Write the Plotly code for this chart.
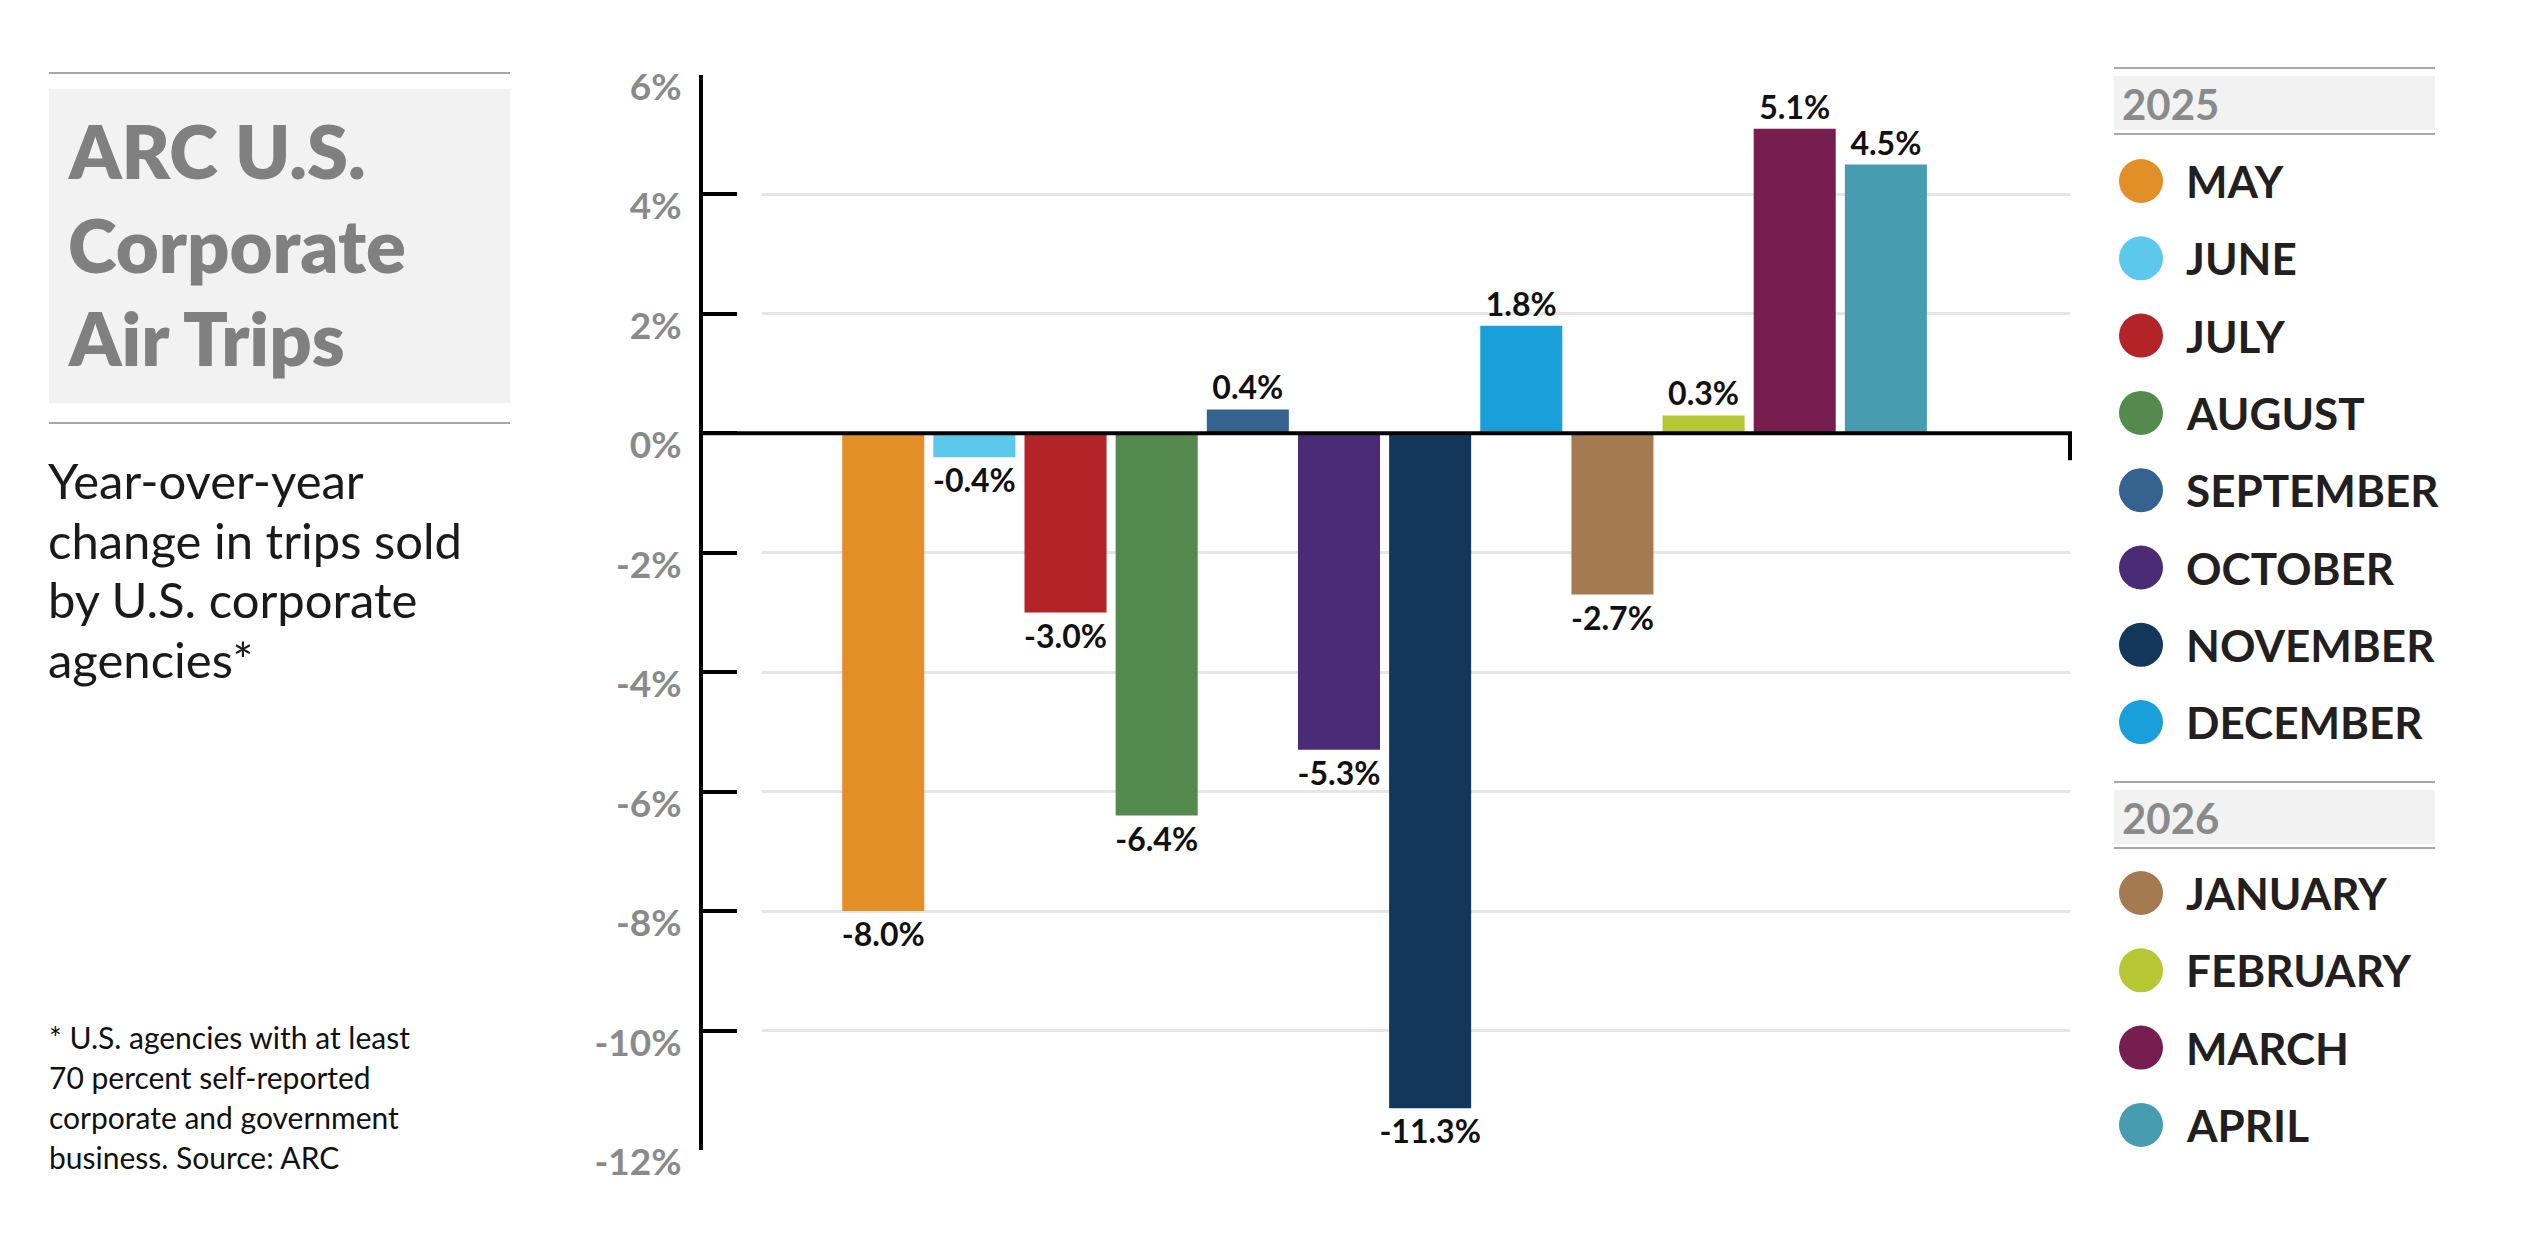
import plotly.graph_objects as go

# ---------------- data ----------------
months = ["MAY", "JUNE", "JULY", "AUGUST", "SEPTEMBER", "OCTOBER", "NOVEMBER",
          "DECEMBER", "JANUARY", "FEBRUARY", "MARCH", "APRIL"]
years = ["2025"] * 8 + ["2026"] * 4
values = [-8.0, -0.4, -3.0, -6.4, 0.4, -5.3, -11.3, 1.8, -2.7, 0.3, 5.1, 4.5]
colors = ["#E38F28", "#5BC8EC", "#B22428", "#558A4F", "#35628F", "#4A2C76",
          "#12375A", "#199FDA", "#A67A50", "#B7C634", "#761E50", "#479DAF"]
y_ticks = [-12, -10, -8, -6, -4, -2, 0, 2, 4, 6]
y_tick_labels = [f"{t}%" for t in y_ticks]
value_labels = [f"{v:.1f}%" for v in values]

title_lines = ["ARC U.S.", "Corporate", "Air Trips"]
subtitle_lines = ["Year-over-year", "change in trips sold", "by U.S. corporate", "agencies*"]
note_lines = ["* U.S. agencies with at least", "70 percent self-reported",
              "corporate and government", "business. Source: ARC"]

# ---------------- geometry helpers ----------------
W, H = 2540, 1250
def px(x):
    return x / W
def py(y):
    return 1 - y / H

FONT = "Lato"
fig = go.Figure()

fig.add_trace(go.Bar(
    x=list(range(len(values))),
    y=values,
    marker=dict(color=colors, line=dict(width=0)),
    text=value_labels,
    textposition="outside",
    constraintext="none",
    cliponaxis=False,
    textfont=dict(family=FONT, size=32, color="#111111", weight="bold"),
    hoverinfo="skip",
    showlegend=False,
))

shapes = []
annotations = []

# zero line with end tick
shapes.append(dict(type="line", xref="paper", yref="y", x0=px(699), x1=px(2072),
                   y0=0, y1=0, line=dict(color="black", width=4)))
shapes.append(dict(type="line", xref="paper", yref="y", x0=px(2070), x1=px(2070),
                   y0=0, y1=-0.45, line=dict(color="black", width=4)))

# ---------------- left panel ----------------
LINE_GRAY = "#a8a8a8"
BOX_GRAY = "#f2f2f2"
shapes.append(dict(type="line", xref="paper", yref="paper", x0=px(49), x1=px(510),
                   y0=py(73), y1=py(73), line=dict(color=LINE_GRAY, width=2)))
shapes.append(dict(type="rect", xref="paper", yref="paper", x0=px(49), x1=px(510),
                   y0=py(403), y1=py(89), fillcolor=BOX_GRAY, line=dict(width=0)))
shapes.append(dict(type="line", xref="paper", yref="paper", x0=px(49), x1=px(510),
                   y0=py(423), y1=py(423), line=dict(color=LINE_GRAY, width=2)))

for i, t in enumerate(title_lines):
    annotations.append(dict(text=t, xref="paper", yref="paper", x=px(66), y=py(150 + i * 94),
                            xanchor="left", yanchor="middle", showarrow=False,
                            font=dict(family=FONT, size=74, color="#808080", weight=800)))
for i, t in enumerate(subtitle_lines):
    annotations.append(dict(text=t, xref="paper", yref="paper", x=px(46), y=py(480 + i * 59.5),
                            xanchor="left", yanchor="middle", showarrow=False,
                            font=dict(family=FONT, size=49, color="#1a1a1a")))
for i, t in enumerate(note_lines):
    annotations.append(dict(text=t, xref="paper", yref="paper", x=px(47), y=py(1037 + i * 40),
                            xanchor="left", yanchor="middle", showarrow=False,
                            font=dict(family=FONT, size=30, color="#111111")))

# ---------------- custom legend ----------------
section_tops = {"2025": 68, "2026": 782}
first_row = {"2025": 181, "2026": 893}
ROW = 77.3
for yr, top in section_tops.items():
    shapes.append(dict(type="line", xref="paper", yref="paper", x0=px(2114), x1=px(2435),
                       y0=py(top), y1=py(top), line=dict(color=LINE_GRAY, width=2)))
    shapes.append(dict(type="rect", xref="paper", yref="paper", x0=px(2114), x1=px(2435),
                       y0=py(top + 62), y1=py(top + 8), fillcolor=BOX_GRAY, line=dict(width=0)))
    shapes.append(dict(type="line", xref="paper", yref="paper", x0=px(2114), x1=px(2435),
                       y0=py(top + 66), y1=py(top + 66), line=dict(color=LINE_GRAY, width=2)))
    annotations.append(dict(text=yr, xref="paper", yref="paper", x=px(2120), y=py(top + 36),
                            xanchor="left", yanchor="middle", showarrow=False,
                            font=dict(family=FONT, size=42, color="#8a8a8a", weight="bold")))

counters = {"2025": 0, "2026": 0}
for m, yr, c in zip(months, years, colors):
    k = counters[yr]
    counters[yr] += 1
    cy = first_row[yr] + k * ROW
    shapes.append(dict(type="circle", xref="paper", yref="paper",
                       x0=px(2119), x1=px(2163), y0=py(cy + 22), y1=py(cy - 22),
                       fillcolor=c, line=dict(width=0)))
    annotations.append(dict(text=m, xref="paper", yref="paper", x=px(2184), y=py(cy),
                            xanchor="left", yanchor="middle", showarrow=False,
                            font=dict(family=FONT, size=44, color="#231f20", weight="bold")))

fig.update_layout(
    template="none",
    width=W, height=H,
    margin=dict(l=0, r=0, t=0, b=0, pad=0, autoexpand=False),
    paper_bgcolor="white", plot_bgcolor="white",
    bargap=0.1,
    shapes=shapes,
    annotations=annotations,
    xaxis=dict(domain=[px(762), px(2070)], range=[-1.33, 13.02], visible=False,
               automargin=False, fixedrange=True),
    yaxis=dict(domain=[py(1150), py(75)], range=[-12, 6], anchor="free", position=px(701),
               tickvals=y_ticks, ticktext=y_tick_labels,
               ticks="inside", ticklen=34, tickwidth=4, tickcolor="black",
               showline=True, linewidth=4, linecolor="black",
               showgrid=True, gridcolor="#e6e6e6", gridwidth=3,
               zeroline=False, automargin=False,
               ticklabelstandoff=10, ticklabelshift=12,
               tickfont=dict(family=FONT, size=37, color="#8a8a8a", weight="bold"),
               fixedrange=True),
)

fig.write_html("out.html")
